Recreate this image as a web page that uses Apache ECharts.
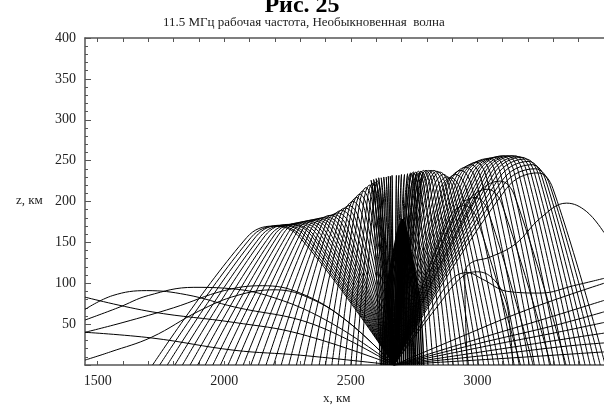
<!DOCTYPE html>
<html><head><meta charset="utf-8">
<script src="https://cdn.jsdelivr.net/npm/echarts@6/dist/echarts.min.js"></script>
<style>html,body{margin:0;padding:0;background:#fff}#c{width:604px;height:407px}</style>
</head><body><div id="c"></div>
<script>
// Tick labels
const xTickLabels = [1500, 2000, 2500, 3000];
const xMinorTicks = [1500,1600,1700,1800,1900,2000,2100,2200,2300,2400,2500,2600,2700,2800,2900,3000,3100,3200,3300,3400];
const yTickLabels = [50,100,150,200,250,300,350,400];

// Rays going left from the transmitter at x=2670 (x, z in km)
const leftRays = [
 [[2670,0],[2299,156],[2194,170],[2089,156],[1717,0]],
 [[2670,0],[2310,156],[2208,170],[2106,156],[1745,0]],
 [[2670,0],[2321,157],[2223,171],[2125,157],[1775,0]],
 [[2670,0],[2333,157],[2238,171],[2143,157],[1805,0]],
 [[2670,0],[2345,158],[2253,172],[2161,158],[1835,0]],
 [[2670,0],[2356,158],[2268,172],[2180,158],[1865,0]],
 [[2670,0],[2368,159],[2283,173],[2198,159],[1895,0]],
 [[2670,0],[2380,160],[2298,174],[2216,160],[1925,0]],
 [[2670,0],[2392,161],[2313,175],[2234,161],[1955,0]],
 [[2670,0],[2403,162],[2328,176],[2253,162],[1985,0]],
 [[2670,0],[2415,163],[2343,177],[2271,163],[2015,0]],
 [[2670,0],[2427,164],[2358,178],[2289,164],[2045,0]],
 [[2670,0],[2438,165],[2373,179],[2308,165],[2075,0]],
 [[2670,0],[2450,166],[2388,180],[2326,166],[2105,0]],
 [[2670,0],[2462,167],[2403,181],[2344,167],[2135,0]],
 [[2670,0],[2473,168],[2418,183],[2363,168],[2165,0]],
 [[2670,0],[2485,169],[2433,184],[2381,169],[2195,0]],
 [[2670,0],[2497,171],[2448,186],[2399,171],[2225,0]],
 [[2670,0],[2509,174],[2463,189],[2417,174],[2255,0]],
 [[2670,0],[2520,177],[2478,192],[2436,177],[2285,0]],
 [[2670,0],[2532,179],[2493,195],[2454,179],[2315,0]],
 [[2670,0],[2544,184],[2508,200],[2472,184],[2345,0]],
 [[2670,0],[2555,189],[2523,205],[2491,189],[2375,0]],
 [[2670,0],[2565,192],[2535,209],[2505,192],[2400,0]],
 [[2670,0],[2575,196],[2548,213],[2521,196],[2425,0]],
 [[2670,0],[2584,200],[2560,217],[2536,200],[2450,0]],
 [[2670,0],[2594,202],[2573,220],[2552,202],[2475,0]],
 [[2670,0],[2604,204],[2585,222],[2566,204],[2500,0]],
 [[2670,0],[2612,206],[2595,224],[2579,206],[2520,0]],
 [[2670,0],[2619,207],[2605,225],[2591,207],[2540,0]]
];

// Nearly vertical rays that return close to the transmitter
const verticalRays = [
 [[2670,0],[2594,203],[2580,226],[2587,208],[2616,0]],
 [[2670,0],[2602,204],[2590,227],[2596,209],[2622,0]],
 [[2670,0],[2610,205],[2600,228],[2606,210],[2628,0]],
 [[2670,0],[2619,206],[2610,229],[2615,211],[2634,0]],
 [[2670,0],[2628,206],[2620,229],[2624,211],[2640,0]],
 [[2670,0],[2636,207],[2630,230],[2633,212],[2646,0]],
 [[2670,0],[2644,207],[2640,230],[2642,212],[2652,0]],
 [[2670,0],[2651,208],[2648,231],[2650,213],[2657,0]],
 [[2670,0],[2658,208],[2656,231],[2657,213],[2662,0]],
 [[2670,0],[2664,209],[2663,232],[2664,213],[2666,0]],
 [[2670,0],[2679,209],[2680,232],[2679,213],[2677,0]],
 [[2670,0],[2687,209],[2690,232],[2688,213],[2684,0]],
 [[2670,0],[2696,210],[2700,233],[2698,214],[2691,0]],
 [[2670,0],[2706,210],[2712,233],[2709,214],[2699,0]],
 [[2670,0],[2716,211],[2724,234],[2720,215],[2708,0]],
 [[2670,0],[2726,211],[2736,234],[2731,215],[2716,0]],
 [[2670,0],[2736,212],[2748,235],[2742,216],[2725,0]],
 [[2670,0],[2746,212],[2760,235],[2753,216],[2733,0]],
 [[2670,0],[2757,212],[2772,236],[2764,217],[2741,0]],
 [[2670,0],[2768,212],[2785,236],[2776,217],[2750,0]]
];

// Dense bundle of steep rays forming the dark dome above the transmitter
const domeRays = [
 [[2670,0],[2683,84],[2685,155],[2688,168],[2678,155],[2637,84],[2620,0]],
 [[2670,0],[2684,85],[2687,156],[2690,170],[2681,156],[2644,85],[2628,0]],
 [[2670,0],[2685,86],[2689,158],[2692,172],[2684,158],[2650,86],[2636,0]],
 [[2670,0],[2687,87],[2690,159],[2694,173],[2686,159],[2656,87],[2644,0]],
 [[2670,0],[2688,87],[2692,160],[2696,174],[2689,160],[2663,87],[2652,0]],
 [[2670,0],[2690,88],[2694,161],[2698,175],[2692,161],[2669,88],[2660,0]],
 [[2670,0],[2691,88],[2696,162],[2700,176],[2695,162],[2676,88],[2668,0]],
 [[2670,0],[2692,89],[2696,163],[2701,177],[2697,163],[2682,89],[2676,0]],
 [[2670,0],[2692,89],[2697,164],[2702,178],[2699,164],[2688,89],[2684,0]],
 [[2670,0],[2693,89],[2698,164],[2703,178],[2701,164],[2695,89],[2692,0]],
 [[2670,0],[2694,89],[2699,164],[2704,178],[2703,164],[2701,89],[2700,0]],
 [[2670,0],[2695,89],[2700,164],[2705,178],[2705,164],[2707,89],[2708,0]],
 [[2670,0],[2695,89],[2701,164],[2706,178],[2708,164],[2714,89],[2716,0]],
 [[2670,0],[2696,89],[2701,164],[2707,178],[2710,164],[2720,89],[2724,0]],
 [[2670,0],[2697,89],[2702,163],[2708,177],[2712,163],[2726,89],[2732,0]],
 [[2670,0],[2697,88],[2703,162],[2709,176],[2714,162],[2732,88],[2740,0]],
 [[2670,0],[2698,88],[2704,161],[2710,175],[2716,161],[2739,88],[2748,0]],
 [[2670,0],[2699,87],[2705,160],[2711,174],[2718,160],[2745,87],[2756,0]],
 [[2670,0],[2699,87],[2706,159],[2712,173],[2720,159],[2751,87],[2764,0]],
 [[2670,0],[2700,86],[2707,158],[2713,172],[2722,158],[2757,86],[2772,0]],
 [[2670,0],[2701,85],[2707,156],[2714,170],[2724,156],[2764,85],[2780,0]],
 [[2670,0],[2702,84],[2708,155],[2715,168],[2726,155],[2770,84],[2788,0]]
];

// Rays going right from the transmitter
const rightRays = [
 [[2670,0],[2722,216],[2737,235],[2752,216],[2805,0]],
 [[2670,0],[2730,217],[2747,236],[2764,217],[2825,0]],
 [[2670,0],[2738,217],[2757,236],[2776,217],[2845,0]],
 [[2670,0],[2746,218],[2767,237],[2789,218],[2865,0]],
 [[2670,0],[2753,218],[2777,237],[2801,218],[2885,0]],
 [[2670,0],[2761,219],[2787,238],[2813,219],[2905,0]],
 [[2670,0],[2769,219],[2797,238],[2825,219],[2925,0]],
 [[2670,0],[2777,219],[2807,238],[2837,219],[2945,0]],
 [[2670,0],[2785,219],[2817,238],[2850,219],[2965,0]],
 [[2670,0],[2793,219],[2828,238],[2863,219],[2985,0]],
 [[2670,0],[2803,218],[2840,237],[2876,218],[3005,0]],
 [[2670,0],[2812,217],[2852,236],[2890,217],[3025,0]],
 [[2670,0],[2823,214],[2866,233],[2905,214],[3045,0]],
 [[2670,0],[2834,212],[2880,230],[2921,212],[3065,0]],
 [[2670,0],[2846,211],[2895,229],[2937,211],[3085,0]],
 [[2670,0],[2861,214],[2915,233],[2957,214],[3105,0]],
 [[2670,0],[2877,219],[2935,238],[2977,219],[3125,0]],
 [[2670,0],[2892,223],[2955,242],[2997,223],[3145,0]],
 [[2670,0],[2908,225],[2975,245],[3017,225],[3165,0]],
 [[2670,0],[2924,228],[2995,248],[3037,228],[3185,0]],
 [[2670,0],[2938,230],[3013,250],[3055,230],[3205,0]],
 [[2670,0],[2952,232],[3031,252],[3074,232],[3225,0]],
 [[2670,0],[2966,233],[3049,253],[3092,233],[3245,0]],
 [[2670,0],[2980,234],[3067,254],[3111,234],[3265,0]],
 [[2670,0],[2993,235],[3084,255],[3128,235],[3285,0]],
 [[2670,0],[3005,236],[3100,256],[3145,236],[3305,0]],
 [[2670,0],[3018,236],[3116,256],[3162,236],[3325,0]],
 [[2670,0],[3030,236],[3132,256],[3179,236],[3345,0]],
 [[2670,0],[3042,236],[3147,256],[3195,236],[3365,0]],
 [[2670,0],[3054,235],[3162,255],[3211,235],[3385,0]],
 [[2670,0],[3065,234],[3176,254],[3226,234],[3405,0]],
 [[2670,0],[3076,232],[3190,252],[3242,232],[3425,0]],
 [[2670,0],[3086,229],[3203,249],[3256,229],[3445,0]],
 [[2670,0],[3096,225],[3216,245],[3271,225],[3465,0]],
 [[2670,0],[3105,221],[3228,240],[3285,221],[3485,0]],
 [[2670,0],[3115,216],[3240,235],[3298,216],[3505,0]]
];

// Lower inner arcs under the right hump
const innerRightRays = [
 [[2670,0],[2888,179],[2950,195],[2998,179],[3170,0]],
 [[2670,0],[2920,189],[2990,205],[3041,189],[3220,0]],
 [[2670,0],[2959,198],[3040,215],[3095,198],[3290,0]],
 [[2670,0],[2998,207],[3090,225],[3147,207],[3350,0]]
];

// Low-angle rays reflected near 90-100 km, left side
const lowLeftRays = [
 [[2670,0],[2300,38],[2040,52],[1715,65],[1450,83]],
 [[2670,0],[2350,50],[2040,71],[1850,86],[1693,91],[1560,85],[1450,68]],
 [[2670,0],[2430,50],[2200,82],[2000,94],[1880,95],[1700,85],[1580,70],[1450,55]],
 [[2670,0],[2480,55],[2300,88],[2150,97],[2000,91],[1800,70],[1600,52],[1450,40]],
 [[2670,0],[2300,12],[2040,18],[1715,33],[1450,40]],
 [[2670,0],[2500,50],[2350,80],[2200,92],[2050,85],[1900,66],[1713,34],[1550,16],[1450,6]]
];

// Low-angle rays, right side
const lowRightRays = [
 [[2670,0],[2900,30],[3200,68],[3500,100]],
 [[2670,0],[2950,27],[3250,55],[3500,79]],
 [[2670,0],[3000,26],[3300,48],[3500,65]],
 [[2670,0],[3050,24],[3300,39],[3500,52]],
 [[2670,0],[3100,20],[3350,32],[3500,39]],
 [[2670,0],[3100,14],[3350,23],[3500,27]],
 [[2670,0],[3100,8],[3400,14],[3500,16]]
];

// Other distinctive rays on the right
const otherRays = [
 [[2960,0],[2953,60],[2950,112],[2975,125],[3050,132],[3150,148],[3250,180],[3352,198],[3430,188],[3500,162]],
 [[2670,0],[2800,60],[2900,105],[2960,113],[3020,105],[3120,90],[3250,88],[3380,97],[3500,106]],
 [[2670,0],[2850,75],[2940,108],[3000,114],[3060,106],[3110,80],[3130,40],[3140,0]]
];

const chart = echarts.init(document.getElementById('c'), null, {renderer:'canvas'});
const serif = 'Liberation Serif, Times New Roman, serif';
const frameColor = '#555';

function raySeries(list, width) {
  return list.map(r => ({
    type:'line', data:r, showSymbol:false, smooth:0.4, clip:true,
    lineStyle:{color:'#000', width:width}, silent:true, animation:false
  }));
}
const series = [].concat(
  raySeries(leftRays, 1), raySeries(verticalRays, 1), raySeries(domeRays, 1.5),
  raySeries(rightRays, 1), raySeries(innerRightRays, 1), raySeries(lowLeftRays, 1),
  raySeries(lowRightRays, 1), raySeries(otherRays, 1)
);

chart.setOption({
  animation:false,
  grid:{left:85, top:38, right:-4, bottom:42},
  xAxis:[
    {type:'value', min:1450, max:3500, position:'bottom',
     axisLine:{show:true, lineStyle:{color:frameColor, width:1.5}},
     axisTick:{show:true, inside:true, length:4, customValues:xMinorTicks, lineStyle:{color:frameColor}},
     axisLabel:{customValues:xTickLabels, fontFamily:serif, fontSize:14, color:'#222', margin:9,
       formatter: v => String(v)},
     splitLine:{show:false}},
    {type:'value', min:1450, max:3500, position:'top',
     axisLine:{show:true, lineStyle:{color:frameColor, width:1.5}},
     axisTick:{show:true, inside:true, length:4, customValues:xMinorTicks, lineStyle:{color:frameColor}},
     axisLabel:{show:false}, splitLine:{show:false}}
  ],
  yAxis:[
    {type:'value', min:0, max:400, interval:50,
     axisLine:{show:true, lineStyle:{color:frameColor, width:1.5}},
     axisTick:{show:true, inside:true, length:6, lineStyle:{color:frameColor}},
     minorTick:{show:true, splitNumber:5, length:3, lineStyle:{color:frameColor}},
     axisLabel:{fontFamily:serif, fontSize:14, color:'#222', margin:9,
       formatter: v => yTickLabels.indexOf(v) >= 0 ? String(v) : ''},
     splitLine:{show:false}}
  ],
  graphic:[
    {type:'text', left:'center', top:-6, style:{text:'Рис. 25', font:'bold 24px '+serif, fill:'#000'}},
    {type:'text', left:163, top:16, style:{text:'11.5 МГц рабочая частота, Необыкновенная  волна', font:'13px '+serif, fill:'#222'}},
    {type:'text', left:16, top:194, style:{text:'z, км', font:'13px '+serif, fill:'#222'}},
    {type:'text', left:323, top:392, style:{text:'x, км', font:'13px '+serif, fill:'#222'}}
  ],
  series: series
});
</script>
</body></html>
